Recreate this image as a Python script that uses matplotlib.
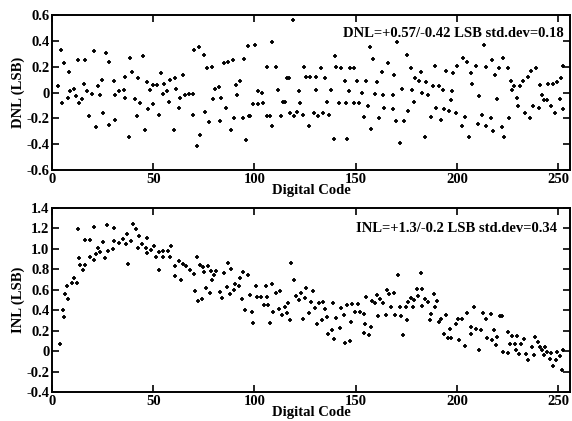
import matplotlib
matplotlib.use("Agg")
import matplotlib.pyplot as plt

plt.rcParams['font.family'] = ['Liberation Serif', 'DejaVu Serif']
plt.rcParams['font.weight'] = 'bold'

# DNL points
dnl_code = [3.1, 4.3, 5.1, 6.1, 8.1, 8.4, 9.0, 10.9, 11.6, 12.9, 13.2, 14.9, 15.8, 16.5, 17.2, 18.3,
            19.8, 20.6, 21.5, 22.6, 23.9, 24.9, 25.1, 26.6, 27.9, 28.2, 30.7, 31.0, 31.0, 33.2, 35.3,
            36.1, 36.1, 37.8, 38.6, 39.6, 41.1, 41.9, 42.6, 43.6, 44.9, 45.9, 46.9, 47.5, 48.2, 50.0,
            50.0, 52.0, 52.8, 54.0, 54.6, 55.3, 56.8, 57.9, 58.1, 60.0, 60.6, 61.4, 62.7, 63.4, 64.7,
            65.7, 67.8, 69.5, 69.6, 70.3, 71.8, 72.4, 73.3, 74.9, 75.4, 76.6, 77.4, 79.0, 79.7, 80.4,
            82.7, 83.2, 83.7, 84.7, 85.8, 86.8, 88.5, 89.3, 89.9, 90.8, 91.6, 92.7, 94.1, 94.9, 95.9,
            96.7, 97.2, 98.0, 99.2, 100.3, 101.8, 101.9, 103.5, 104.3, 106.3, 106.3, 107.9, 108.8,
            108.8, 110.6, 111.7, 112.9, 113.9, 115.3, 116.3, 117.2, 117.3, 118.8, 119.6, 121.1, 121.8,
            122.4, 123.9, 124.4, 125.4, 126.9, 127.4, 129.4, 130.4, 130.4, 131.5, 133.0, 134.0, 134.7,
            135.8, 136.8, 137.6, 139.5, 139.6, 140.4, 141.8, 142.8, 144.8, 145.3, 145.9, 146.9, 147.1,
            149.2, 149.4, 150.7, 151.5, 153.3, 154.1, 155.1, 156.3, 157.1, 157.6, 158.4, 159.6, 160.4,
            161.4, 163.2, 163.7, 164.0, 166.2, 168.2, 168.5, 168.8, 169.8, 170.5, 171.8, 172.8, 174.1,
            175.4, 175.9, 177.3, 177.8, 178.9, 179.2, 181.1, 182.4, 182.8, 184.3, 184.8, 185.8, 187.0,
            188.0, 189.2, 189.5, 191.1, 192.1, 192.9, 193.8, 194.8, 196.2, 197.1, 197.7, 198.2, 199.7,
            200.2, 202.3, 203.1, 204.1, 204.8, 205.8, 207.1, 207.5, 209.2, 210.3, 211.1, 212.2, 213.4,
            214.4, 214.4, 216.7, 217.2, 217.8, 218.7, 220.0, 220.6, 222.1, 222.8, 223.4, 225.2, 225.9,
            226.6, 227.2, 228.2, 229.6, 230.0, 231.4, 232.7, 233.7, 235.0, 236.2, 236.7, 237.6, 239.1,
            240.6, 240.9, 241.9, 242.8, 244.7, 245.2, 246.4, 247.4, 248.4, 249.4, 251.0, 251.5, 252.3,
            252.5]
dnl_val = [0.05, 0.33, -0.08, 0.23, -0.04, 0.16, 0.01, 0.03, -0.03, 0.25, -0.08, -0.05, 0.07, 0.25, 0.01,
           -0.18, -0.01, 0.32, -0.27, 0.05, -0.02, 0.10, -0.16, 0.31, -0.25, 0.24, 0.09, -0.02, -0.21,
           0.01, 0.02, 0.12, -0.04, -0.34, 0.27, 0.16, -0.05, -0.18, 0.11, -0.08, 0.28, -0.29, 0.08,
           -0.13, 0.02, 0.06, -0.09, 0.06, -0.17, 0.15, -0.01, 0.07, 0.01, -0.07, 0.10, -0.29, 0.11,
           0.03, -0.12, -0.04, 0.14, -0.02, -0.01, -0.17, -0.01, 0.33, -0.41, 0.35, -0.33, 0.29, -0.15,
           0.19, -0.23, 0.20, -0.05, 0.03, 0.04, -0.22, -0.04, 0.23, -0.12, 0.24, -0.29, 0.25, -0.20,
           0.06, -0.02, 0.09, -0.20, 0.26, -0.37, 0.36, -0.18, -0.18, -0.09, 0.37, -0.09, 0.01, 0.00,
           -0.08, 0.20, -0.18, -0.18, 0.39, -0.26, 0.20, 0.02, -0.18, -0.07, -0.07, 0.11, 0.11, -0.16,
           0.56, -0.18, -0.15, 0.01, -0.08, -0.17, 0.20, 0.12, -0.26, 0.12, -0.16, 0.12, 0.02, -0.18,
           0.19, -0.16, 0.11, -0.07, -0.17, 0.02, -0.36, 0.28, 0.20, -0.08, 0.19, 0.09, -0.08, -0.36,
           0.01, 0.19, 0.19, -0.08, 0.09, -0.08, 0.00, -0.19, 0.09, -0.10, 0.35, -0.28, 0.26, -0.01,
           0.08, -0.20, 0.16, -0.02, -0.12, 0.23, -0.02, -0.13, 0.14, -0.22, 0.39, -0.39, 0.03, -0.22,
           0.29, -0.14, 0.19, 0.02, -0.07, 0.11, 0.09, 0.16, 0.00, -0.34, 0.08, -0.02, -0.19, 0.05,
           0.21, -0.12, 0.05, -0.21, 0.02, -0.13, 0.17, -0.14, -0.06, 0.01, 0.15, -0.16, 0.21, -0.26,
           0.27, -0.19, 0.24, -0.34, 0.15, 0.07, 0.21, -0.24, -0.03, -0.17, 0.37, 0.20, -0.26, -0.20,
           0.25, -0.30, 0.14, -0.05, 0.19, -0.27, 0.27, -0.34, 0.19, -0.20, 0.09, 0.02, 0.05, -0.04,
           -0.10, 0.05, 0.09, -0.16, 0.12, -0.20, 0.17, -0.10, 0.19, -0.12, 0.06, -0.02, -0.06, -0.06,
           0.07, -0.10, 0.07, -0.16, 0.08, -0.05, 0.11, 0.21, -0.13]

# INL points
inl_code = [3.8, 5.3, 6.0, 6.3, 7.6, 8.1, 9.8, 10.6, 12.1, 12.6, 13.1, 13.8, 15.1, 16.3, 16.4, 18.8,
            18.8, 20.6, 20.9, 21.8, 22.9, 23.9, 25.1, 26.4, 27.1, 27.4, 30.1, 30.4, 30.6, 32.9, 34.9,
            36.4, 37.0, 37.4, 39.2, 40.0, 41.4, 42.4, 43.1, 44.4, 46.3, 46.7, 47.0, 48.7, 50.3, 51.2,
            52.7, 53.0, 55.0, 55.0, 57.3, 58.3, 59.0, 60.5, 60.6, 62.6, 63.8, 64.6, 66.1, 67.9, 69.9,
            70.6, 71.4, 71.9, 73.3, 74.1, 74.6, 74.9, 75.9, 77.0, 77.9, 78.5, 79.0, 80.2, 81.2, 82.8,
            83.8, 84.9, 86.3, 87.1, 87.8, 88.4, 89.9, 90.4, 92.2, 92.9, 93.7, 94.3, 95.3, 96.8, 98.0,
            98.6, 99.2, 100.9, 101.4, 103.4, 104.5, 105.8, 106.2, 106.8, 107.7, 108.5, 109.3, 110.6,
            112.1, 112.8, 113.8, 114.9, 115.9, 116.7, 117.4, 118.2, 119.5, 120.3, 121.8, 122.8, 123.9,
            124.9, 125.3, 126.8, 127.7, 128.9, 129.7, 130.7, 131.9, 133.5, 133.8, 134.8, 136.0, 136.5,
            138.5, 138.8, 139.4, 140.1, 142.1, 142.9, 144.0, 144.9, 145.9, 147.3, 147.8, 148.3, 149.8,
            151.1, 151.9, 153.9, 154.1, 154.7, 155.2, 156.4, 157.4, 158.2, 159.5, 160.5, 161.2, 161.8,
            163.5, 165.1, 165.5, 166.4, 167.6, 168.7, 169.5, 170.8, 171.8, 172.3, 173.4, 174.6, 175.3,
            175.8, 177.3, 178.3, 178.9, 180.2, 180.7, 182.4, 182.6, 182.8, 184.0, 185.5, 186.5, 187.3,
            188.5, 189.1, 190.3, 191.1, 192.3, 193.4, 194.7, 195.6, 196.7, 197.2, 199.7, 200.5, 200.8,
            202.6, 203.8, 205.1, 206.8, 207.2, 208.2, 209.2, 210.8, 211.7, 212.8, 214.2, 214.8, 216.6,
            217.1, 218.4, 219.4, 219.8, 221.1, 222.1, 222.8, 225.0, 225.2, 226.3, 227.3, 228.5, 229.0,
            229.8, 230.9, 231.9, 232.9, 233.9, 235.2, 237.2, 238.1, 238.4, 240.1, 240.9, 242.2, 243.0,
            243.7, 244.7, 245.8, 246.6, 247.4, 249.1, 249.6, 251.1, 252.1, 252.4]
inl_val = [0.07, 0.40, 0.33, 0.56, 0.64, 0.51, 0.67, 0.71, 0.67, 1.19, 0.91, 0.84, 0.79, 0.84, 1.09,
           1.09, 0.92, 1.21, 0.89, 0.95, 1.01, 0.97, 1.07, 0.91, 1.23, 0.98, 1.00, 1.20, 1.08, 1.06,
           1.10, 1.05, 1.15, 0.85, 1.08, 1.24, 1.19, 1.01, 1.13, 1.05, 1.01, 1.11, 0.96, 0.99, 1.03,
           0.92, 0.97, 0.79, 0.92, 0.98, 0.98, 0.92, 1.03, 0.83, 0.73, 0.88, 0.70, 0.85, 0.83, 0.79,
           0.75, 0.59, 0.92, 0.49, 0.84, 0.51, 0.82, 0.77, 0.62, 0.83, 0.57, 0.78, 0.70, 0.74, 0.78,
           0.58, 0.52, 0.76, 0.63, 0.86, 0.56, 0.80, 0.60, 0.66, 0.64, 0.71, 0.51, 0.77, 0.40, 0.74,
           0.55, 0.38, 0.27, 0.64, 0.53, 0.53, 0.45, 0.64, 0.53, 0.45, 0.27, 0.66, 0.38, 0.57, 0.41,
           0.59, 0.35, 0.43, 0.37, 0.47, 0.30, 0.86, 0.70, 0.54, 0.50, 0.57, 0.31, 0.52, 0.62, 0.37,
           0.48, 0.59, 0.42, 0.26, 0.47, 0.30, 0.48, 0.41, 0.33, 0.17, 0.21, 0.47, 0.12, 0.32, 0.23,
           0.42, 0.35, 0.08, 0.45, 0.10, 0.28, 0.46, 0.38, 0.46, 0.38, 0.36, 0.18, 0.26, 0.53, 0.16,
           0.24, 0.49, 0.47, 0.55, 0.34, 0.51, 0.47, 0.35, 0.60, 0.56, 0.43, 0.57, 0.35, 0.74, 0.43,
           0.34, 0.16, 0.43, 0.30, 0.48, 0.52, 0.43, 0.50, 0.61, 0.54, 0.76, 0.61, 0.44, 0.51, 0.48,
           0.30, 0.36, 0.56, 0.43, 0.49, 0.28, 0.31, 0.17, 0.35, 0.13, 0.22, 0.13, 0.26, 0.31, 0.11,
           0.31, 0.05, 0.37, 0.17, 0.24, 0.43, 0.22, 0.01, 0.21, 0.37, 0.31, 0.13, 0.36, 0.11, 0.21,
           0.06, 0.14, 0.34, 0.34, -0.01, 0.19, -0.02, 0.07, 0.15, 0.07, 0.01, 0.15, -0.03, 0.07, 0.12,
           -0.03, -0.09, 0.04, -0.04, 0.14, 0.09, 0.04, 0.01, -0.04, 0.04, -0.01, -0.08, -0.02, -0.15,
           -0.09, -0.01, -0.05, -0.19, 0.01]

x_ticks = [0, 50, 100, 150, 200, 250]
dnl_ticks = [0.6, 0.4, 0.2, 0, -0.2, -0.4, -0.6]
dnl_labels = ['0.6', '0.4', '0.2', '0', '-0.2', '-0.4', '-0.6']
inl_ticks = [1.4, 1.2, 1.0, 0.8, 0.6, 0.4, 0.2, 0, -0.2, -0.4]
inl_labels = ['1.4', '1.2', '1.0', '0.8', '0.6', '0.4', '0.2', '0', '-0.2', '-0.4']

dnl_text = 'DNL=+0.57/-0.42 LSB std.dev=0.18'
inl_text = 'INL=+1.3/-0.2 LSB std.dev=0.34'

fig = plt.figure(figsize=(5.72, 4.21), dpi=100)
ax1 = fig.add_axes([0.091, 0.596, 0.906, 0.368])
ax2 = fig.add_axes([0.091, 0.069, 0.906, 0.437])


def style(ax, yt, yl, ylabel):
    ax.set_xlim(0, 256)
    ax.set_xticks(x_ticks)
    ax.set_xticklabels([str(t) for t in x_ticks])
    ax.set_yticks(yt)
    ax.set_yticklabels(yl)
    ax.set_ylim(min(yt), max(yt))
    ax.tick_params(direction='in', top=True, right=True, length=5, width=1.2,
                   labelsize=10.5, pad=2)
    for lab in ax.get_xticklabels() + ax.get_yticklabels():
        lab.set_fontweight('bold')
    for s in ax.spines.values():
        s.set_linewidth(1.4)
    ax.set_xlabel('Digital Code', fontsize=10.5, fontweight='bold', labelpad=-1)
    ax.set_ylabel(ylabel, fontsize=10.5, fontweight='bold', labelpad=1)


ax1.plot(dnl_code, dnl_val, linestyle='none', marker='+', ms=3.2, mew=1.3, color='black')
style(ax1, dnl_ticks, dnl_labels, 'DNL (LSB)')
ax1.text(0.988, 0.88, dnl_text, transform=ax1.transAxes, ha='right', va='center',
         fontsize=10.5, fontweight='bold')

ax2.plot(inl_code, inl_val, linestyle='none', marker='+', ms=3.2, mew=1.3, color='black')
style(ax2, inl_ticks, inl_labels, 'INL (LSB)')
ax2.text(0.975, 0.89, inl_text, transform=ax2.transAxes, ha='right', va='center',
         fontsize=10.5, fontweight='bold')

fig.savefig('out.png', dpi=100)
